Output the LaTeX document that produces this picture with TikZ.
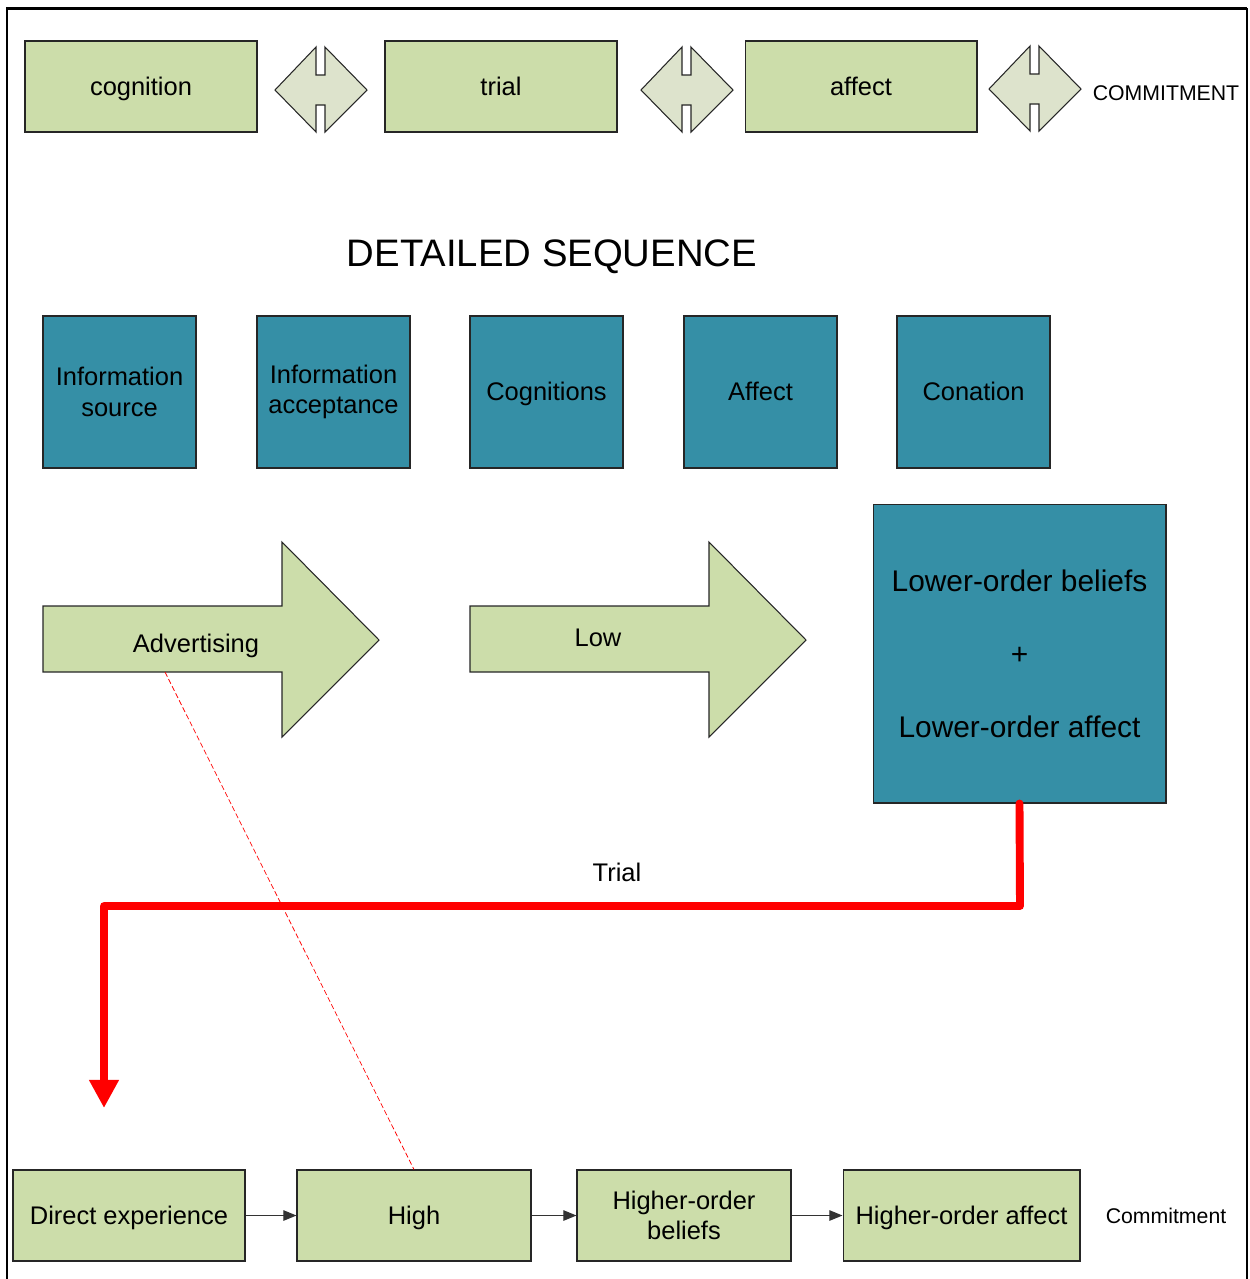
\documentclass[tikz,border=0pt]{standalone}
\usepackage{fontspec}
\setmainfont{Liberation Sans}
\usetikzlibrary{positioning}
\usetikzlibrary{arrows.meta}

\definecolor{leaf}{RGB}{204,221,170}
\definecolor{pale}{RGB}{221,227,204}
\definecolor{petrol}{RGB}{53,143,166}

\begin{document}
\begin{tikzpicture}[x=0.02cm,y=-0.02cm,
    stage/.style={draw=black!85,fill=leaf,line width=0.6pt,minimum width=4.64cm,
      minimum height=1.82cm,inner sep=0pt,align=center,font=\fontsize{14.5}{17.5}\selectfont},
    phase/.style={draw=black!85,fill=petrol,line width=0.6pt,minimum width=3.06cm,
      minimum height=3.04cm,inner sep=0pt,align=center,font=\fontsize{14.5}{17.5}\selectfont},
    oneline/.style={text height=12pt,text depth=1.8pt},
    swap/.style={draw=black!85,fill=pale,line width=0.6pt,line join=miter},
    bigarrow/.style={draw=black!85,fill=leaf,line width=0.6pt},
    word/.style={inner sep=0pt,font=\fontsize{14.5}{17.5}\selectfont},
    flow/.style={-{Triangle[length=7.5pt,width=6pt]},line width=0.6pt,draw=black!80},
    trialpath/.style={-{Triangle[length=16pt,width=16pt]},red,line width=4.5pt,
      line cap=round,line join=round}]
  \useasboundingbox (0,0) rectangle (1250,1279);
  % frame
  \draw[line width=1.7pt] (7,1279) -- (7,8) -- (1247,8);
  \draw[line width=1.1pt] (1247,8) -- (1247,1279);

  % top row
  \node[stage,oneline] (cog) at (141,86.5) {cognition};
  \node[stage,oneline] (try) at (501,86.5) {trial};
  \node[stage,oneline] (aff) at (861,86.5) {affect};
  \foreach \dx/\dy in {275/90,641/90,989/89}
    \draw[swap,shift={(\dx,\dy)}] (0,0) -- (41,-43) -- (41,-15) -- (50,-15) -- (50,-43)
      -- (92,0) -- (50,42) -- (50,15) -- (41,15) -- (41,42) -- cycle;
  \node[inner sep=0pt,font=\fontsize{12.1}{14}\selectfont] (commit) at (1166,93) {COMMITMENT};

  \node[inner sep=0pt,font=\fontsize{21.8}{26}\selectfont] (title) at (552,257) {DETAILED SEQUENCE};

  % detailed sequence
  \node[phase] (src) at (119.5,392) {Information\\source};
  \node[phase] (acc) at (333.5,392) {Information\\acceptance};
  \node[phase,oneline] (cgs) at (546.5,392) {Cognitions};
  \node[phase,oneline] (afc) at (760.5,392) {Affect};
  \node[phase,oneline] (con) at (973.5,392) {Conation};

  % low involvement
  \draw[bigarrow] (43,606) -- (282,606) -- (282,542) -- (379,640) -- (282,737)
    -- (282,672) -- (43,672) -- cycle;
  \draw[bigarrow] (470,606) -- (709,606) -- (709,542) -- (806,640) -- (709,737)
    -- (709,672) -- (470,672) -- cycle;
  \node[word,oneline] (adv) at (196,644) {Advertising};
  \node[word,oneline] (low) at (598,638) {Low};
  \node[phase,minimum width=5.86cm,minimum height=5.98cm,
    font=\fontsize{17}{41.5}\selectfont] (lob) at (1019.5,653.5)
    {Lower-order beliefs\\+\\Lower-order affect};
  \coordinate (advfoot) at (165,672);

  % high involvement
  \node[stage,oneline] (direct) at (129,1215.5) {Direct experience};
  \node[stage,oneline,minimum width=4.68cm] (high) at (414,1215.5) {High};
  \node[stage,minimum width=4.28cm] (hob) at (684,1215.5) {Higher-order\\beliefs};
  \node[stage,oneline,minimum width=4.74cm] (hoa) at (961.5,1215.5) {Higher-order affect};
  \node[inner sep=0pt,font=\fontsize{12.1}{14}\selectfont] (commit2) at (1166,1216) {Commitment};
  \draw[flow] (direct) -- (high);
  \draw[flow] (high) -- (hob);
  \draw[flow] (hob) -- (hoa);

  % trial
  \coordinate (bend) at (1020,906);
  \coordinate (expin) at (104,1108);
  \draw[trialpath] (lob.south) -- (bend) -| (expin);
  \node[word,oneline] (triallbl) at (617,873) {Trial};
  \draw[red,line width=0.4pt,dash pattern=on 3pt off 1.5pt] (advfoot) -- (high.north);
\end{tikzpicture}
\end{document}
